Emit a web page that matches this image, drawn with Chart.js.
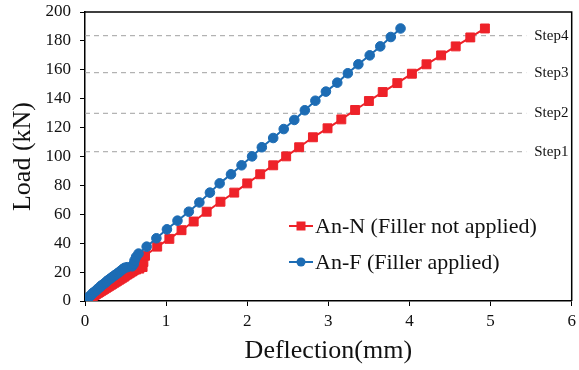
<!DOCTYPE html>
<html>
<head>
<meta charset="utf-8">
<script src="https://cdn.jsdelivr.net/npm/chart.js@4/dist/chart.umd.min.js"></script>
<style>
  html, body { margin: 0; padding: 0; background: #fff; }
  #wrap { width: 579px; height: 370px; }
</style>
</head>
<body>
<div id="wrap"><canvas id="canvas" width="579" height="370"></canvas></div>
<script>
// An-N (filler not applied)
const nDefl = [0.00, 0.02, 0.04, 0.06, 0.08, 0.10, 0.12, 0.14, 0.16, 0.18, 0.20, 0.22, 0.24, 0.26, 0.28, 0.30,
    0.32, 0.34, 0.36, 0.38, 0.40, 0.42, 0.44, 0.46, 0.48, 0.50, 0.52, 0.54, 0.56, 0.58, 0.60, 0.63, 0.67, 0.71,
    0.72, 0.74, 0.89, 1.04, 1.19, 1.34, 1.50, 1.67, 1.84, 2.00, 2.16, 2.32, 2.48, 2.64, 2.81, 2.99, 3.16, 3.33,
    3.50, 3.67, 3.85, 4.03, 4.21, 4.39, 4.57, 4.75, 4.93]
const nLoad = [0.0, 0.7, 1.4, 2.1, 2.8, 3.5, 4.2, 4.9, 5.6, 6.3, 7.0, 7.7, 8.4, 9.1, 9.8, 10.5,
    11.2, 11.9, 12.6, 13.3, 14.0, 14.7, 15.4, 16.1, 16.8, 17.6, 18.3, 19.0, 19.7, 20.4, 21.1, 21.8, 22.4, 23.5,
    27.0, 31.3, 37.6, 43.0, 49.0, 55.0, 61.8, 68.7, 75.0, 81.4, 87.7, 93.9, 100.1, 106.4, 113.3, 119.5, 125.7, 132.2,
    138.4, 144.6, 150.8, 157.3, 163.8, 170.0, 176.2, 182.4, 188.6]

// An-F (filler applied)
const fDefl = [0.00, 0.01, 0.03, 0.04, 0.06, 0.07, 0.09, 0.10, 0.12, 0.14, 0.15, 0.17, 0.19, 0.20, 0.22, 0.24,
    0.26, 0.27, 0.29, 0.31, 0.33, 0.35, 0.37, 0.39, 0.41, 0.43, 0.45, 0.47, 0.49, 0.52, 0.58, 0.60, 0.61, 0.63,
    0.66, 0.76, 0.88, 1.01, 1.14, 1.28, 1.41, 1.54, 1.66, 1.80, 1.93, 2.06, 2.18, 2.32, 2.45, 2.58, 2.71, 2.84,
    2.97, 3.11, 3.24, 3.37, 3.51, 3.64, 3.77, 3.89]
const fLoad = [0.0, 0.8, 1.6, 2.4, 3.2, 4.0, 4.9, 5.7, 6.5, 7.3, 8.1, 9.0, 9.8, 10.6, 11.4, 12.2,
    13.0, 13.8, 14.6, 15.4, 16.3, 17.1, 17.9, 18.7, 19.5, 20.4, 21.3, 22.2, 23.0, 23.4, 24.0, 25.5, 28.0, 30.5,
    32.8, 37.6, 43.4, 49.6, 55.6, 61.8, 68.2, 75.0, 81.4, 87.7, 93.9, 100.1, 106.4, 112.8, 119.0, 125.3, 132.0, 138.6,
    144.9, 151.1, 157.6, 163.8, 170.0, 176.2, 182.7, 188.6]

// load steps (dashed lines)
const stepNames = ['Step1', 'Step2', 'Step3', 'Step4']
const stepLoads = [103.3, 129.9, 158.0, 183.6]
const stepLineEnd = 5.44

const xTicks = [0, 1, 2, 3, 4, 5, 6]
const yTicks = [0, 20, 40, 60, 80, 100, 120, 140, 160, 180, 200]

const RED = '#ee2229'
const BLUE = '#1d6cb4'
const SERIF = "'Liberation Serif', 'Times New Roman', serif"

const toXY = (xs, ys) => xs.map((x, i) => ({ x: x, y: ys[i] }))

const stepSets = stepLoads.map((v) => ({
    label: 'step',
    data: [{ x: 0, y: v }, { x: stepLineEnd, y: v }],
    borderColor: '#a0a0a0',
    borderWidth: 1,
    borderDash: [5, 4],
    pointRadius: 0,
    order: 3
}))

const datasets = [{
    label: 'An-N (Filler not applied)',
    data: toXY(nDefl, nLoad),
    borderColor: RED,
    backgroundColor: RED,
    borderWidth: 2,
    pointStyle: 'rect',
    pointRadius: 6.3,
    pointBorderWidth: 1,
    order: 2
}, {
    label: 'An-F (Filler applied)',
    data: toXY(fDefl, fLoad),
    borderColor: BLUE,
    backgroundColor: BLUE,
    borderWidth: 2,
    pointStyle: 'circle',
    pointRadius: 4.8,
    pointBorderWidth: 1,
    order: 1
}].concat(stepSets)

// top / right frame, step labels and the legend inside the plot
const extras = {
    id: 'extras',
    afterDraw(chart) {
        const ctx = chart.ctx
        const a = chart.chartArea
        const xs = chart.scales.x
        const ys = chart.scales.y
        ctx.save()
        ctx.strokeStyle = '#000'
        ctx.lineWidth = 1.5
        ctx.beginPath()
        ctx.moveTo(a.left, a.top)
        ctx.lineTo(a.right, a.top)
        ctx.lineTo(a.right, a.bottom)
        ctx.stroke()

        ctx.fillStyle = '#111'
        ctx.font = '15px ' + SERIF
        ctx.textBaseline = 'middle'
        ctx.textAlign = 'left'
        stepLoads.forEach((v, i) => {
            ctx.fillText(stepNames[i], xs.getPixelForValue(stepLineEnd) + 8, ys.getPixelForValue(v))
        })

        const items = [
            { ds: chart.data.datasets[0], y: 226 },
            { ds: chart.data.datasets[1], y: 262 }
        ]
        ctx.font = '22px ' + SERIF
        items.forEach((it) => {
            const c = it.ds.borderColor
            ctx.strokeStyle = c
            ctx.fillStyle = c
            ctx.lineWidth = 2
            ctx.beginPath()
            ctx.moveTo(289, it.y)
            ctx.lineTo(313, it.y)
            ctx.stroke()
            ctx.beginPath()
            if (it.ds.pointStyle === 'rect') {
                ctx.rect(296.5, it.y - 4.5, 9, 9)
            } else {
                ctx.arc(301, it.y, 4.5, 0, Math.PI * 2)
            }
            ctx.fill()
            ctx.fillStyle = '#111'
            ctx.fillText(it.ds.label, 315, it.y + 1)
        })
        ctx.restore()
    }
}

const ctx = document.getElementById('canvas').getContext('2d')
const myChart = new Chart(ctx, {
    type: 'line',
    data: { datasets: datasets },
    options: {
        responsive: false,
        animation: false,
        layout: { padding: { top: 12, right: 6, left: 0, bottom: 0 } },
        plugins: {
            legend: { display: false },
            tooltip: { enabled: false }
        },
        scales: {
            x: {
                type: 'linear',
                min: 0,
                max: 6,
                afterFit: (s) => {
                    s.height = 69
                    s.paddingLeft = 0
                    s.paddingRight = 0
                },
                afterBuildTicks: (s) => { s.ticks = xTicks.map((v) => ({ value: v })) },
                grid: { drawOnChartArea: false, drawTicks: true, tickLength: 5, color: '#000', lineWidth: 1 },
                border: { display: true, color: '#000', width: 1.5 },
                ticks: { color: '#111', font: { family: SERIF, size: 17 }, padding: 5 },
                title: { display: true, text: 'Deflection(mm)', color: '#111', font: { family: SERIF, size: 26 }, padding: { top: 0, bottom: 3 } }
            },
            y: {
                type: 'linear',
                min: 0,
                max: 200,
                afterFit: (s) => {
                    s.width = 85
                    s.paddingTop = 0
                    s.paddingBottom = 0
                },
                afterBuildTicks: (s) => { s.ticks = yTicks.map((v) => ({ value: v })) },
                grid: { drawOnChartArea: false, drawTicks: true, tickLength: 5, color: '#000', lineWidth: 1 },
                border: { display: true, color: '#000', width: 1.5 },
                ticks: { color: '#111', font: { family: SERIF, size: 17 }, padding: 9 },
                title: { display: true, text: 'Load (kN)', color: '#111', font: { family: SERIF, size: 26 }, padding: { top: 8, bottom: 0 } }
            }
        }
    },
    plugins: [extras]
})
</script>
</body>
</html>
